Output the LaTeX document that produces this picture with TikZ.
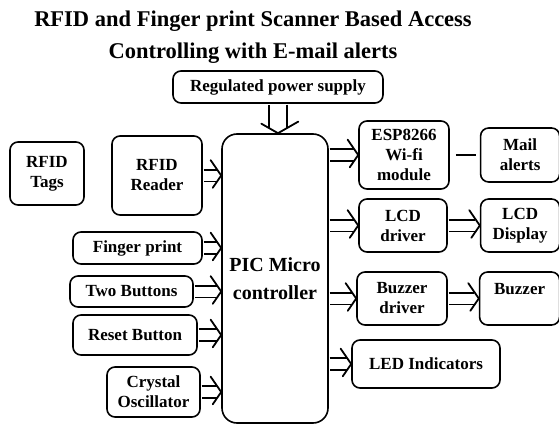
\documentclass[tikz,border=0pt]{standalone}
\usepackage{fontspec}
\setmainfont{Liberation Serif}
\usetikzlibrary{arrows.meta, positioning, decorations.markings}
\tikzset{
  blk/.style = {
    rectangle, rounded corners=8pt, draw=black, line width=1.6pt,
    align=center, inner sep=2pt,
    font=\fontsize{17}{20}\selectfont\bfseries
  },
  dblarrow/.style = {double, double distance=10pt, line width=1.8pt,
    shorten <=0.8pt, shorten >=4.5pt,
    postaction={decorate, decoration={markings, mark=at position 1 with {
      \draw[line width=1.8pt, line join=round, line cap=round]
        (-11pt,16pt) -- (0,0) -- (-11pt,-16pt);}}}},
  bigarrow/.style = {double, double distance=16pt, line width=1.8pt,
    shorten <=0.8pt, shorten >=5pt,
    postaction={decorate, decoration={markings, mark=at position 1 with {
      \draw[line width=1.8pt, line join=round, line cap=round]
        (-12pt,21pt) -- (0,0) -- (-12pt,-21pt);}}}},
  plainline/.style = {line width=2.4pt, shorten <=6pt, shorten >=4pt}
}
\begin{document}
\begin{tikzpicture}[x=1pt, y=-1pt]
  \useasboundingbox (0,0) rectangle (559,425);
  % Title
  \node[align=center, font=\fontsize{22.5}{32}\selectfont\bfseries] (title) at (253,37)
    {RFID and Finger print Scanner Based Access\\Controlling with E-mail alerts};

  % Nodes
  \node[blk, minimum width=210pt, minimum height=32pt] (psu) at (278,87) {Regulated power supply};
  \node[blk, rounded corners=15pt, minimum width=106pt, minimum height=289pt,
        font=\fontsize{20}{28}\selectfont\bfseries] (pic) at (275,278.5) {PIC Micro\\controller};

  \node[blk, minimum width=74pt, minimum height=63pt] (tags) at (47,173.5) {RFID\\Tags};
  \node[blk, minimum width=90pt, minimum height=79pt] (reader) at (157,175.5) {RFID\\Reader};
  \node[blk, minimum width=129pt, minimum height=32pt] (finger) at (137.5,248) {Finger print};
  \node[blk, minimum width=123pt, minimum height=31pt] (twobtn) at (131.5,291.5) {Two Buttons};
  \node[blk, minimum width=124pt, minimum height=40pt] (reset) at (135,335) {Reset Button};
  \node[blk, minimum width=93pt, minimum height=50pt] (crystal) at (153.5,392) {Crystal\\Oscillator};

  \node[blk, minimum width=90pt, minimum height=68pt] (esp) at (404,155) {ESP8266\\Wi-fi\\module};
  \node[blk, minimum width=79pt, minimum height=54pt, right=30pt of esp] (mail) {Mail\\alerts};
  \node[blk, minimum width=88pt, minimum height=53pt] (lcddrv) at (403,225.5) {LCD\\driver};
  \node[blk, minimum width=79pt, minimum height=53pt, right=32pt of lcddrv] (lcd) {LCD\\Display};
  \node[blk, minimum width=90pt, minimum height=53pt] (buzdrv) at (402,298.5) {Buzzer\\driver};
  \node[blk, minimum width=80pt, minimum height=53pt, right=31pt of buzdrv] (buzzer) {Buzzer\\\mbox{}};
  \node[blk, minimum width=148pt, minimum height=48pt] (led) at (426,364) {LED Indicators};

  % Connections
  \draw[bigarrow] (psu) -- (psu |- pic.north);
  \foreach \src in {reader, finger, twobtn, reset, crystal}
    \draw[dblarrow] (\src) -- (\src -| pic.west);
  \foreach \dst in {esp, lcddrv, buzdrv, led}
    \draw[dblarrow] (\dst -| pic.east) -- (\dst);
  \draw[dblarrow] (lcddrv) -- (lcd);
  \draw[dblarrow] (buzdrv) -- (buzzer);
  \draw[plainline] (esp) -- (mail);
\end{tikzpicture}
\end{document}
